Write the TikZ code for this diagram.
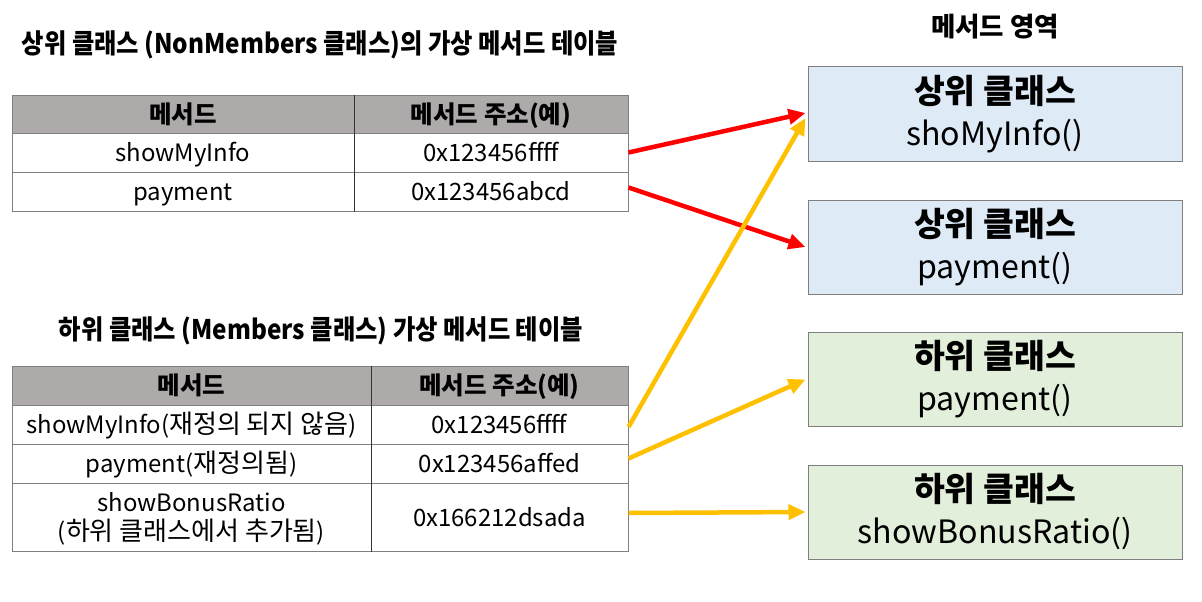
\documentclass[tikz,border=0pt]{standalone}
\usepackage{fontspec}
\setmainfont{Noto Sans CJK KR}
\newfontfamily\krb{Noto Sans CJK KR}[FakeStretch=0.9]
\newfontfamily\latf{Noto Sans CJK KR}[Scale=0.92]
\newfontfamily\boxlat{Noto Sans CJK KR}[Scale=0.96]
\newcommand\lat[1]{{\latf #1}}
\usetikzlibrary{arrows.meta}
\definecolor{hdr}{HTML}{AEAAAA}
\definecolor{bord}{HTML}{7F7F7F}
\definecolor{bluef}{HTML}{DEEAF6}
\definecolor{greenf}{HTML}{E2EFDA}
\definecolor{yel}{HTML}{FFC000}
\begin{document}
\begin{tikzpicture}[x=1pt,y=-1pt,
  cell/.style={draw=bord,line width=1pt,inner sep=0pt,font=\fontsize{26}{30}\selectfont,align=center,text height=20pt,text depth=1.5pt},
  hcell/.style={cell,fill=hdr,font=\fontsize{24.5}{28}\selectfont\bfseries},
  title/.style={font=\krb\fontsize{27}{31}\selectfont\bfseries},
  mbox/.style={draw=bord,line width=1pt,inner sep=0pt,minimum width=374pt,minimum height=94pt,align=center,font=\fontsize{33.5}{42}\selectfont},
  redarr/.style={draw=red,line width=4.5pt,-{Triangle[length=17pt,width=15pt]}},
  yelarr/.style={draw=yel,line width=4.5pt,-{Triangle[length=17pt,width=15pt]}}]
\useasboundingbox[fill=white] (0,0) rectangle (1202,602);

% titles
\node[title] (t1) at (320,45) {상위 클래스 (NonMembers 클래스)의 가상 메서드 테이블};
\node[title] (t2) at (321,331) {하위 클래스 (Members 클래스) 가상 메서드 테이블};
\node[font=\fontsize{26.5}{30}\selectfont\bfseries] (area) at (995,27) {메서드 영역};

% top table
\node[hcell,minimum width=342pt,minimum height=38pt] (a00) at (183,114) {메서드};
\node[hcell,minimum width=274pt,minimum height=38pt] (a01) at (491,114) {메서드 주소(예)};
\node[cell,minimum width=342pt,minimum height=39pt] (a10) at (183,152.5) {\lat{showMyInfo}};
\node[cell,minimum width=274pt,minimum height=39pt] (a11) at (491,152.5) {\lat{0x123456ffff}};
\node[cell,minimum width=342pt,minimum height=39pt] (a20) at (183,191.5) {\lat{payment}};
\node[cell,minimum width=274pt,minimum height=39pt] (a21) at (491,191.5) {\lat{0x123456abcd}};
\draw[line width=1pt,black!80] (a00.north east) -- (a20.south east);

% bottom table
\node[hcell,minimum width=359pt,minimum height=39pt] (b00) at (191.5,385.5) {메서드};
\node[hcell,minimum width=257pt,minimum height=39pt] (b01) at (499.5,385.5) {메서드 주소(예)};
\node[cell,minimum width=359pt,minimum height=39pt] (b10) at (191.5,424.5) {\lat{showMyInfo(}재정의 되지 않음\lat{)}};
\node[cell,minimum width=257pt,minimum height=39pt] (b11) at (499.5,424.5) {\lat{0x123456ffff}};
\node[cell,minimum width=359pt,minimum height=39pt] (b20) at (191.5,463.5) {\lat{payment(}재정의됨\lat{)}};
\node[cell,minimum width=257pt,minimum height=39pt] (b21) at (499.5,463.5) {\lat{0x123456affed}};
\node[cell,minimum width=359pt,minimum height=68pt] (b30) at (191.5,517) {};
\node[inner sep=0pt,align=center,font=\fontsize{26}{29}\selectfont] (b30t) at ([yshift=-2pt]b30.center) {\lat{showBonusRatio}\\\lat{(}하위 클래스에서 추가됨\lat{)}};
\node[cell,minimum width=257pt,minimum height=68pt] (b31) at (499.5,517) {\lat{0x166212dsada}};
\draw[line width=1pt,black!80] (b00.north east) -- (b30.south east);

% method area boxes
\node[mbox,fill=bluef] (m1) at (995,114) {\textbf{상위 클래스}\\\boxlat shoMyInfo()};
\node[mbox,fill=bluef] (m2) at (995,247) {\textbf{상위 클래스}\\\boxlat payment()};
\node[mbox,fill=greenf] (m3) at (995,379.5) {\textbf{하위 클래스}\\\boxlat payment()};
\node[mbox,fill=greenf] (m4) at (995,512) {\textbf{하위 클래스}\\\boxlat showBonusRatio()};

% arrows
\draw[redarr] (a11.east) -- ([xshift=-2pt,yshift=1pt]m1.west);
\draw[redarr] ([yshift=4pt]a21.east) -- ([xshift=-2pt]m2.west);
\draw[yelarr] ([yshift=-2.5pt]b11.east) -- ([xshift=-2pt,yshift=-4pt]m1.west);
\draw[yelarr] ([yshift=5pt]b21.east) -- ([xshift=-2pt]m3.west);
\draw[yelarr] ([yshift=4pt]b31.east) -- ([xshift=-2pt]m4.west);
\end{tikzpicture}
\end{document}
